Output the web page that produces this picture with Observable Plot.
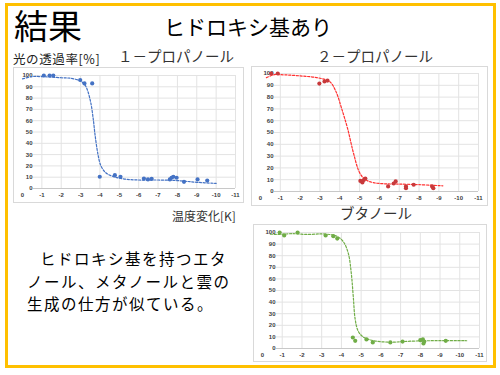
<!DOCTYPE html>
<html><head><meta charset="utf-8">
<script src="https://cdn.jsdelivr.net/npm/d3@7"></script>
<script src="https://cdn.jsdelivr.net/npm/@observablehq/plot@0.6"></script>
<style>
html,body{margin:0;padding:0;background:#fff;}
#page{position:relative;width:500px;height:375px;overflow:hidden;font-family:"Noto Sans CJK JP",sans-serif;color:#000;}
.t{position:absolute;white-space:nowrap;line-height:1;}
#border{position:absolute;left:5px;top:3px;width:491px;height:365px;box-sizing:border-box;border:3.5px solid #FFC000;}
#para{position:absolute;left:27px;top:247px;font-size:15.5px;letter-spacing:1.5px;line-height:22.5px;white-space:nowrap;}
</style>
</head><body>
<div id="page">
  <div id="border"></div>
  <div class="t" style="left:14px;top:8px;font-size:34px;">結果</div>
  <div class="t" style="left:164px;top:16px;font-size:21px;">ヒドロキシ基あり</div>
  <div class="t" style="left:13px;top:53px;font-size:12.5px;letter-spacing:0.6px;color:#222;">光の透過率[%]</div>
  <div class="t" style="left:118px;top:49px;font-size:14.5px;color:#333;">１－プロパノール</div>
  <div class="t" style="left:317px;top:49px;font-size:14.5px;color:#333;">２－プロパノール</div>
  <div class="t" style="left:340px;top:206px;font-size:14.5px;color:#333;">ブタノール</div>
  <div class="t" style="left:172px;top:210px;font-size:12px;color:#333;">温度変化[K]</div>
  <div id="para"><span style="padding-left:13px">ヒドロキシ基を持つエタ</span><br>ノール、メタノールと雲の<br>生成の仕方が似ている。</div>
</div>
<script>
// ---- data ----
const xTicks = [0, -1, -2, -3, -4, -5, -6, -7, -8, -9, -10, -11];
const yTicks = [0, 10, 20, 30, 40, 50, 60, 70, 80, 90, 100];

// 1-プロパノール measured points
const p1X = [-1.10, -1.40, -1.59, -2.98, -3.20, -3.60, -3.99, -4.77, -5.06, -6.27, -6.48, -6.67, -7.61, -7.70, -7.79, -7.96, -8.34, -9.04, -9.54];
const p1Y = [100, 100, 100, 96, 93, 93, 10.4, 11.8, 10.4, 8.8, 8, 8.6, 8, 9.5, 10.4, 9.5, 5.9, 8, 7.1];
// 1-プロパノール trend line
const c1X = [0, -0.5, -1, -2, -2.5, -3, -3.25, -3.5, -3.65, -3.75, -3.9, -4.05, -4.3, -4.7, -5.2, -6, -7, -8, -9, -10];
const c1Y = [97, 99, 99, 98, 97.5, 95, 91, 78, 62, 47, 30, 20, 14, 10.5, 8.5, 7.5, 7.5, 7, 5.5, 4.5];

// 2-プロパノール
const p2X = [-0.54, -0.87, -2.97, -3.23, -3.38, -5.04, -5.14, -5.21, -5.29, -6.44, -6.72, -6.82, -7.34, -7.34, -7.73, -8.66, -8.72];
const p2Y = [100, 100, 91.5, 93.2, 94, 9, 7.7, 9.7, 11, 4.3, 6.8, 8.5, 4.3, 2.8, 5.7, 4.3, 2.8];
const c2X = [-0.3, -0.7, -1, -2, -3, -3.5, -3.8, -4.1, -4.4, -4.7, -5.0, -5.3, -5.7, -6.3, -7, -8, -9.2];
const c2Y = [96.5, 99, 99, 98, 96, 93, 85, 70, 53, 32, 16, 10, 7.5, 6.5, 6.3, 5.8, 4.8];

// ブタノール
const p3X = [-0.87, -1.10, -1.78, -3.20, -3.59, -3.79, -4.58, -4.70, -5.27, -5.59, -6.48, -7.10, -8.00, -8.13, -8.16, -8.20, -9.29];
const p3Y = [100, 97.5, 100, 97.4, 96.8, 94.8, 9.5, 6.6, 7.8, 5.2, 5.2, 6, 7.2, 7.8, 4.3, 6, 6.6];
const c3X = [-0.4, -1, -1.5, -2.3, -3, -3.5, -3.8, -4.1, -4.35, -4.5, -4.6, -4.7, -4.85, -5.1, -5.6, -6.5, -7.5, -8.5, -10.35];
const c3Y = [98.5, 98.5, 99, 98.3, 98.8, 98, 96.5, 92, 82, 65, 45, 25, 15, 10, 6.8, 5.5, 6.3, 6.7, 6.7];

function chart(cfg) {
  const pts = cfg.px.map((x, i) => ({x, y: cfg.py[i]}));
  const crv = cfg.cx.map((x, i) => ({x, y: cfg.cy[i]}));
  const svg = Plot.plot({
    width: cfg.w, height: cfg.h,
    marginLeft: cfg.ml, marginRight: cfg.mr, marginTop: cfg.mt, marginBottom: cfg.mb,
    x: {domain: [0, -11]},
    y: {domain: [0, 100]},
    style: {fontFamily: "'Liberation Sans', Arial, sans-serif", fontSize: "6px", color: "#404040", background: "white", overflow: "visible"},
    marks: [
      Plot.gridX(xTicks.filter(d => d !== 0), {stroke: "#e3e3e3", strokeOpacity: 1}),
      Plot.gridY(yTicks, {stroke: "#e3e3e3", strokeOpacity: 1, insetLeft: cfg.dy + 1}),
      Plot.ruleY([0], {stroke: "#c8c8c8", insetLeft: cfg.dy + 1}),
      Plot.axisX(xTicks, {tickSize: 0, tickPadding: 4, label: null, tickFormat: d => String(d), fontWeight: "bold"}),
      Plot.axisY(yTicks, {anchor: "left", tickSize: 0, tickPadding: 0, dx: cfg.dy, label: null, tickFormat: d => String(d), fontWeight: "bold"}),
      Plot.line(crv, {x: "x", y: "y", curve: "catmull-rom", stroke: cfg.lc, strokeWidth: 1.2, strokeDasharray: "2.2,1.6"}),
      Plot.dot(pts, {x: "x", y: "y", r: 2.1, fill: cfg.pc, stroke: "none"})
    ]
  });
  svg.style.position = "absolute";
  svg.style.left = cfg.left + "px";
  svg.style.top = cfg.top + "px";
  svg.style.outline = "1px solid #d9d9d9";
  svg.style.outlineOffset = "-1px";
  document.getElementById("page").appendChild(svg);
}

chart({px: p1X, py: p1Y, cx: c1X, cy: c1Y, pc: "#4472C4", lc: "#4472C4",
  left: 13, top: 67, w: 231, h: 136, ml: 9, mr: 9, mt: 8, mb: 15, dy: 10});
chart({px: p2X, py: p2Y, cx: c2X, cy: c2Y, pc: "#C8393B", lc: "#FF3030",
  left: 251, top: 66, w: 237, h: 140, ml: 9, mr: 10, mt: 7, mb: 15, dy: 13});
chart({px: p3X, py: p3Y, cx: c3X, cy: c3Y, pc: "#70AD47", lc: "#70AD47",
  left: 253, top: 224, w: 234, h: 138, ml: 9, mr: 8, mt: 8, mb: 14, dy: 13});
</script>
</body></html>
